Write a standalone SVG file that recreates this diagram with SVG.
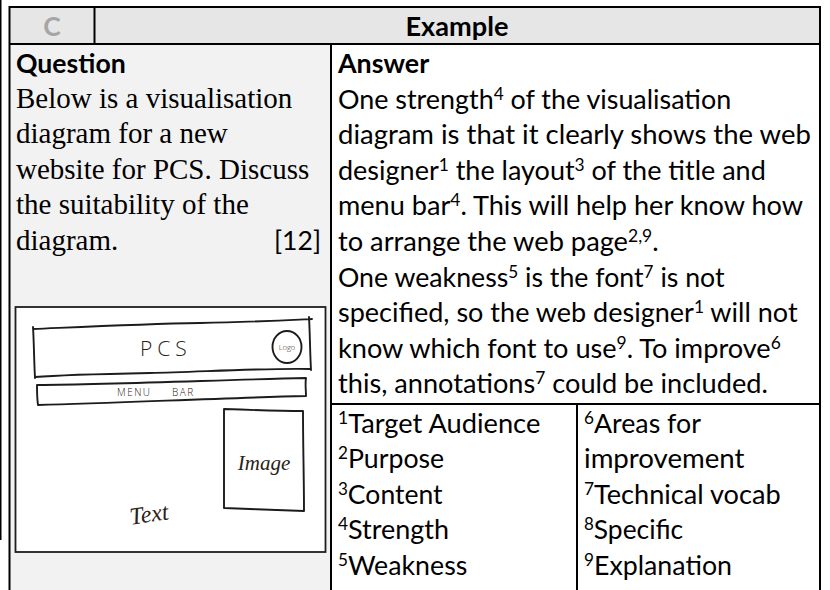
<svg xmlns="http://www.w3.org/2000/svg" width="830" height="590" viewBox="0 0 830 590">
<style>
.cal{font-family:Lato,"Open Sans","Liberation Sans",sans-serif;font-size:26.5px;fill:#000}
.b{font-weight:bold}
.tnr{font-family:"Liberation Serif","Times New Roman",serif;font-size:29px;fill:#000}
.ln{stroke:#000;stroke-width:2;fill:none}
.sk{stroke:#1c1c1c;stroke-width:1.9;fill:none;stroke-linecap:round;stroke-linejoin:round}
.hw{font-family:"Liberation Serif",serif;font-style:italic;fill:#2a2216}
.hs{font-family:"Open Sans","Liberation Sans",sans-serif;font-weight:300;fill:#2a2216}
.sup{font-size:17px}
</style>
<rect width="830" height="590" fill="#fff"/>
<rect x="0" y="0" width="1.5" height="540" fill="#000"/>

<g id="table-grid">
  <rect x="9.5" y="7" width="810.5" height="37" fill="#e6e6e6"/>
  <rect x="9.5" y="44" width="321.5" height="546" fill="#f2f2f2"/>
  <path class="ln" d="M9.5,7 H820 M9.5,44 H820 M9.5,6 V590 M820,6 V590 M94.5,7 V44 M331,44 V590 M331,404 H820 M577,404 V590"/>
</g>

<g id="header">
  <text class="cal b" x="52" y="36" text-anchor="middle" style="fill:#a6a6a6">C</text>
  <text class="cal b" x="457" y="36" text-anchor="middle" textLength="103" lengthAdjust="spacingAndGlyphs">Example</text>
</g>

<g id="question">
  <text class="cal b" x="16" y="73" textLength="109.7" lengthAdjust="spacingAndGlyphs">Question</text>
  <text class="tnr" x="16" y="107.6">Below is a visualisation</text>
  <text class="tnr" x="16" y="143.2">diagram for a new</text>
  <text class="tnr" x="16" y="178.8">website for PCS. Discuss</text>
  <text class="tnr" x="16" y="214.4">the suitability of the</text>
  <text class="tnr" x="16" y="250">diagram.</text>
  <text class="cal" x="321" y="250" text-anchor="end" textLength="47" lengthAdjust="spacingAndGlyphs">[12]</text>
</g>

<g id="sketch">
  <rect x="15.5" y="307" width="310" height="245" fill="#fff" stroke="#1e1e1e" stroke-width="1.8"/>
  <path class="sk" d="M33,329 C80,327 140,324 200,323 C250,322 290,320 312,319 M309,317 C310,335 310,352 311,370 M311,369 C260,368 200,372 150,373 C100,374 60,375 35,377 M33,327 C34,343 34,360 35,378"/>
  <ellipse class="sk" cx="287" cy="347" rx="14.5" ry="16"/>
  <text class="hs" x="287" y="349.5" font-size="7.5" text-anchor="middle">Logo</text>
  <text class="hs" x="140" y="356" font-size="21" letter-spacing="5">PCS</text>
  <path class="sk" d="M37,385 C120,384 220,380 306,378 C305,384 306,390 306,396 C220,398 120,403 38,405 C37,398 37,392 37,385 Z"/>
  <text class="hs" x="117" y="396" font-size="10" letter-spacing="1.5" font-weight="400">MENU</text>
  <text class="hs" x="172" y="396" font-size="10" letter-spacing="1.5" font-weight="400">BAR</text>
  <path class="sk" d="M224,409 C250,410 280,411 303,411 C303,445 304,480 304,511 C280,510 250,509 224,508 C224,475 224,440 224,409 Z"/>
  <text class="hw" x="264" y="470" font-size="21" text-anchor="middle">Image</text>
  <text class="hw" x="149" y="522" font-size="24" text-anchor="middle" transform="rotate(-8 149 514)">Text</text>
</g>

<g id="answer">
  <text class="cal b" x="338" y="73" textLength="91.2" lengthAdjust="spacingAndGlyphs">Answer</text>
  <text class="cal" x="338" y="108.6" textLength="393.2" lengthAdjust="spacingAndGlyphs">One strength<tspan class="sup" dy="-9">4</tspan><tspan dy="9"> of the visualisation</tspan></text>
  <text class="cal" x="338" y="144.2" textLength="472.8" lengthAdjust="spacingAndGlyphs">diagram is that it clearly shows the web</text>
  <text class="cal" x="338" y="179.8" textLength="427.8" lengthAdjust="spacingAndGlyphs">designer<tspan class="sup" dy="-9">1</tspan><tspan dy="9"> the layout</tspan><tspan class="sup" dy="-9">3</tspan><tspan dy="9"> of the title and</tspan></text>
  <text class="cal" x="338" y="215.4" textLength="465" lengthAdjust="spacingAndGlyphs">menu bar<tspan class="sup" dy="-9">4</tspan><tspan dy="9">. This will help her know how</tspan></text>
  <text class="cal" x="338" y="251" textLength="320.7" lengthAdjust="spacingAndGlyphs">to arrange the web page<tspan class="sup" dy="-9">2,9</tspan><tspan dy="9">.</tspan></text>
  <text class="cal" x="338" y="286.6" textLength="386.6" lengthAdjust="spacingAndGlyphs">One weakness<tspan class="sup" dy="-9">5</tspan><tspan dy="9"> is the font</tspan><tspan class="sup" dy="-9">7</tspan><tspan dy="9"> is not</tspan></text>
  <text class="cal" x="338" y="322.2" textLength="459.6" lengthAdjust="spacingAndGlyphs">specified, so the web designer<tspan class="sup" dy="-9">1</tspan><tspan dy="9"> will not</tspan></text>
  <text class="cal" x="338" y="357.8" textLength="442.8" lengthAdjust="spacingAndGlyphs">know which font to use<tspan class="sup" dy="-9">9</tspan><tspan dy="9">. To improve</tspan><tspan class="sup" dy="-9">6</tspan></text>
  <text class="cal" x="338" y="393.4" textLength="429.9" lengthAdjust="spacingAndGlyphs">this, annotations<tspan class="sup" dy="-9">7</tspan><tspan dy="9"> could be included.</tspan></text>
</g>

<g id="footnotes">
  <text class="cal" x="338" y="432.6" textLength="202.3" lengthAdjust="spacingAndGlyphs"><tspan class="sup" dy="-9">1</tspan><tspan dy="9">Target Audience</tspan></text>
  <text class="cal" x="338" y="468.2" textLength="106.2" lengthAdjust="spacingAndGlyphs"><tspan class="sup" dy="-9">2</tspan><tspan dy="9">Purpose</tspan></text>
  <text class="cal" x="338" y="503.8" textLength="104.6" lengthAdjust="spacingAndGlyphs"><tspan class="sup" dy="-9">3</tspan><tspan dy="9">Content</tspan></text>
  <text class="cal" x="338" y="539.4" textLength="111" lengthAdjust="spacingAndGlyphs"><tspan class="sup" dy="-9">4</tspan><tspan dy="9">Strength</tspan></text>
  <text class="cal" x="338" y="575" textLength="129.3" lengthAdjust="spacingAndGlyphs"><tspan class="sup" dy="-9">5</tspan><tspan dy="9">Weakness</tspan></text>
  <text class="cal" x="584" y="432.6" textLength="117" lengthAdjust="spacingAndGlyphs"><tspan class="sup" dy="-9">6</tspan><tspan dy="9">Areas for</tspan></text>
  <text class="cal" x="584" y="468.2" textLength="160.5" lengthAdjust="spacingAndGlyphs">improvement</text>
  <text class="cal" x="584" y="503.8" textLength="196.6" lengthAdjust="spacingAndGlyphs"><tspan class="sup" dy="-9">7</tspan><tspan dy="9">Technical vocab</tspan></text>
  <text class="cal" x="584" y="539.4" textLength="99.2" lengthAdjust="spacingAndGlyphs"><tspan class="sup" dy="-9">8</tspan><tspan dy="9">Specific</tspan></text>
  <text class="cal" x="584" y="575" textLength="148" lengthAdjust="spacingAndGlyphs"><tspan class="sup" dy="-9">9</tspan><tspan dy="9">Explanation</tspan></text>
</g>
</svg>
